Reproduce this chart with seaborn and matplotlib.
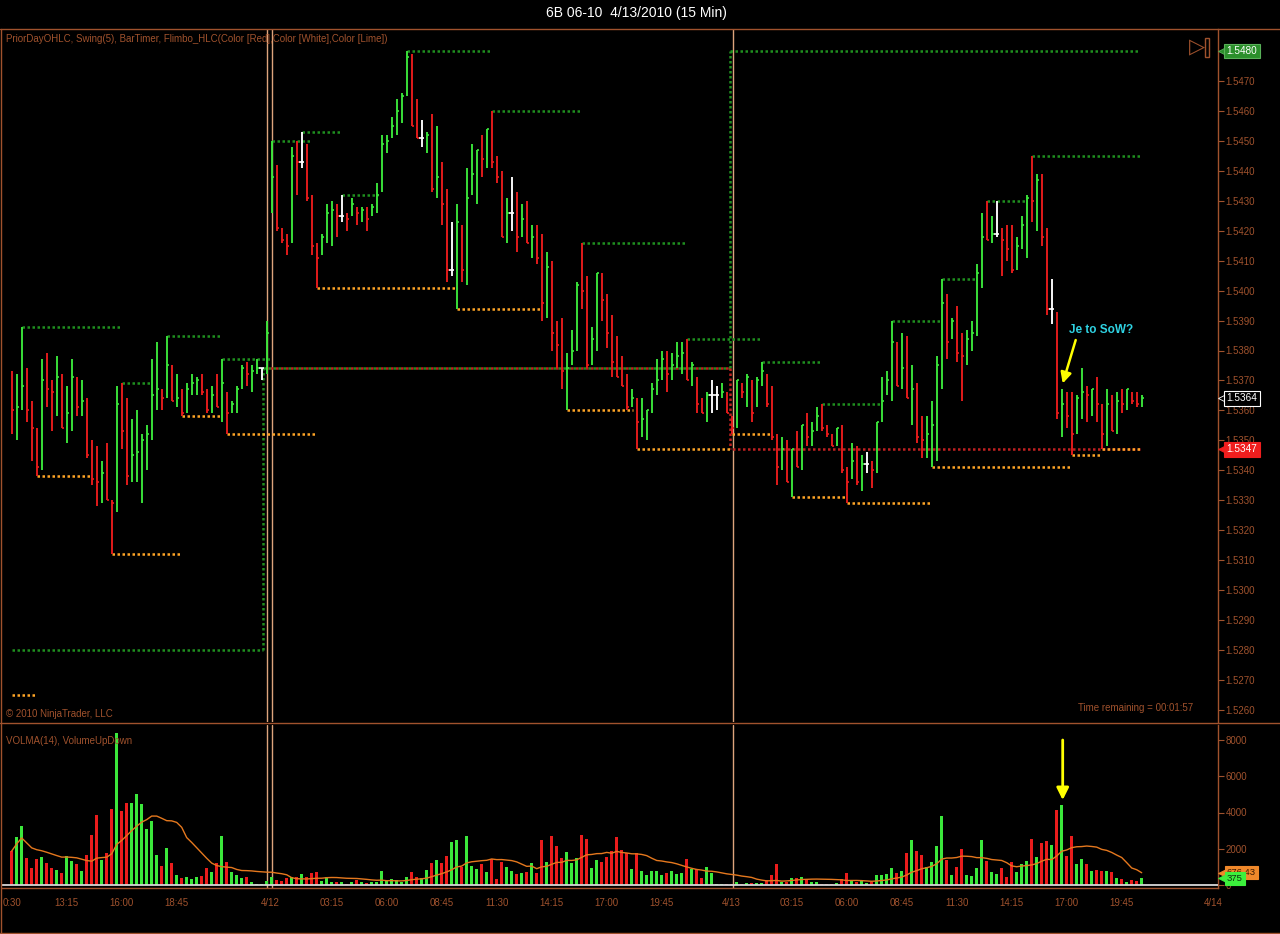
import numpy as np
import pandas as pd
import matplotlib
matplotlib.use("Agg")
import matplotlib.pyplot as plt
import matplotlib.transforms as mtransforms
from matplotlib.lines import Line2D
from matplotlib.patches import Rectangle
from matplotlib.ticker import FuncFormatter
import seaborn as sns

# ---------------------------------------------------------------------------
# 6B (British pound futures, June 2010) - 15 minute bars
# quotes are stored in pips above BASE
# ---------------------------------------------------------------------------
BASE = 1.5200
PIP = 0.0001

HIGH = [
    173, 172, 188, 174, 163, 154, 177, 179, 170, 178,
    172, 168, 177, 171, 170, 164, 150, 148, 143, 149,
    130, 168, 169, 164, 157, 160, 152, 155, 177, 183,
    167, 185, 175, 172, 167, 169, 172, 171, 172, 167,
    168, 172, 177, 166, 163, 168, 175, 176, 175, 177,
    174, 190, 250, 242, 221, 219, 248, 250, 253, 249,
    232, 216, 219, 229, 230, 229, 232, 226, 231, 228,
    228, 228, 229, 236, 252, 252, 258, 264, 266, 280,
    279, 264, 257, 253, 259, 255, 243, 234, 223, 229,
    222, 241, 249, 247, 252, 254, 260, 245, 240, 231,
    238, 233, 229, 230, 222, 222, 219, 213, 210, 190,
    191, 179, 187, 203, 216, 205, 188, 206, 206, 199,
    192, 185, 178, 172, 167, 164, 164, 160, 169, 177,
    180, 180, 179, 183, 183, 184, 176, 171, 164, 166,
    170, 168, 169, 166, 158, 170, 169, 172, 170, 171,
    176, 172, 168, 152, 151, 150, 147, 153, 155, 159,
    156, 161, 162, 155, 152, 154, 155, 141, 149, 148,
    145, 146, 143, 156, 171, 173, 190, 183, 186, 185,
    175, 169, 158, 158, 163, 178, 204, 199, 191, 195,
    186, 187, 190, 209, 226, 230, 225, 230, 221, 222,
    222, 218, 225, 232, 245, 239, 239, 221, 204, 193,
    167, 166, 166, 165, 174, 168, 167, 171, 162, 167,
    165, 166, 167, 167, 166, 166, 165,
]

LOW = [
    152, 150, 160, 156, 143, 138, 140, 161, 153, 158,
    154, 149, 153, 158, 158, 144, 135, 128, 129, 130,
    112, 126, 147, 135, 136, 136, 129, 140, 150, 160,
    160, 164, 163, 161, 158, 159, 165, 165, 165, 159,
    159, 161, 156, 152, 159, 159, 167, 168, 166, 172,
    170, 172, 226, 220, 216, 212, 216, 232, 241, 230,
    212, 201, 212, 216, 215, 218, 223, 220, 225, 222,
    223, 220, 225, 226, 233, 246, 251, 252, 256, 265,
    255, 251, 248, 246, 233, 231, 222, 203, 205, 194,
    203, 202, 232, 229, 238, 241, 241, 236, 218, 216,
    220, 213, 218, 216, 211, 209, 190, 191, 180, 174,
    167, 160, 175, 180, 194, 174, 175, 180, 190, 181,
    171, 171, 168, 160, 161, 147, 151, 150, 159, 165,
    170, 166, 170, 174, 172, 170, 168, 159, 159, 156,
    159, 160, 164, 159, 152, 154, 164, 161, 156, 161,
    168, 161, 150, 135, 140, 136, 131, 141, 140, 148,
    148, 153, 153, 151, 148, 148, 139, 129, 137, 135,
    133, 139, 134, 139, 156, 165, 163, 168, 167, 164,
    155, 149, 144, 144, 141, 143, 167, 177, 184, 176,
    163, 175, 180, 185, 201, 217, 216, 218, 205, 210,
    206, 207, 214, 211, 223, 220, 215, 192, 189, 157,
    151, 154, 145, 152, 157, 156, 158, 156, 147, 148,
    153, 152, 159, 160, 162, 161, 161,
]

CLOSE = [
    160, 161, 168, 160, 154, 141, 170, 167, 166, 171,
    154, 159, 171, 161, 163, 145, 137, 136, 139, 130,
    129, 162, 153, 138, 145, 146, 150, 152, 165, 167,
    164, 175, 163, 164, 159, 167, 169, 170, 166, 160,
    165, 161, 169, 159, 162, 167, 174, 172, 173, 174,
    174, 186, 238, 221, 217, 215, 245, 243, 243, 231,
    215, 211, 218, 226, 227, 225, 225, 224, 229, 226,
    227, 224, 228, 232, 249, 250, 255, 260, 265, 278,
    255, 251, 251, 252, 234, 238, 229, 207, 207, 223,
    207, 231, 239, 247, 244, 254, 243, 238, 218, 226,
    226, 218, 224, 216, 218, 211, 196, 208, 186, 182,
    173, 174, 180, 202, 200, 175, 184, 206, 197, 186,
    176, 171, 168, 161, 164, 156, 157, 160, 167, 170,
    177, 172, 175, 178, 179, 170, 175, 162, 159, 165,
    165, 165, 166, 159, 154, 170, 166, 171, 159, 170,
    173, 162, 151, 141, 147, 136, 147, 141, 155, 151,
    153, 158, 154, 152, 148, 154, 140, 136, 143, 136,
    142, 142, 140, 156, 163, 170, 183, 168, 174, 164,
    167, 151, 150, 152, 155, 175, 196, 183, 190, 179,
    178, 184, 186, 206, 218, 217, 219, 219, 217, 214,
    207, 215, 222, 231, 230, 237, 218, 194, 194, 159,
    162, 158, 152, 164, 166, 165, 167, 162, 152, 162,
    153, 163, 162, 167, 163, 162, 164,
]
PREV_SESSION_CLOSE = 165

VOLUME = [
    1874, 2664, 3251, 1506, 955, 1433, 1543, 1231, 955, 827,
    680, 1598, 1323, 1139, 790, 1653, 2756, 3858, 1378, 1745,
    4188, 8413, 4078, 4537, 4537, 5015, 4464, 3086, 3527, 1653,
    1047, 2021, 1231, 551, 404, 459, 331, 459, 496, 919,
    735, 1194, 2700, 1249, 735, 551, 404, 459, 184, 55,
    37, 200, 459, 276, 220, 367, 459, 459, 606, 459,
    680, 735, 239, 459, 184, 147, 147, 37, 147, 276,
    147, 92, 184, 184, 790, 276, 331, 276, 147, 459,
    735, 459, 404, 827, 1231, 1378, 1231, 1598, 2388, 2480,
    1010, 2700, 1047, 882, 1157, 735, 1433, 331, 1286, 1010,
    790, 606, 680, 735, 1231, 680, 2480, 1286, 2719, 2168,
    1506, 1837, 1231, 1470, 2756, 2535, 955, 1378, 1286, 1561,
    1874, 2664, 1929, 1745, 882, 1782, 790, 551, 772, 772,
    551, 680, 772, 606, 680, 1433, 882, 863, 404, 974,
    680, 37, 37, 37, 50, 184, 37, 129, 92, 129,
    129, 276, 551, 1139, 184, 184, 367, 367, 459, 331,
    184, 184, 37, 37, 37, 129, 331, 643, 220, 184,
    239, 129, 184, 551, 551, 606, 919, 643, 772, 1745,
    2480, 1874, 1653, 1010, 1249, 2149, 3803, 1378, 551, 1010,
    1984, 551, 496, 955, 2480, 1323, 735, 606, 919, 459,
    1286, 735, 1139, 1323, 2517, 1561, 2333, 2443, 2204, 4133,
    4409, 1598, 2700, 1157, 1433, 1157, 790, 827, 772, 790,
    735, 404, 331, 184, 276, 239, 375,
]
VOLMA_PERIOD = 14

# Swing(5) levels: first bar, last bar, level (pips)
SWING_HIGH_START = [2, 22, 31, 42, 52, 58, 66, 79, 96, 114, 135, 150, 162, 176, 186, 195, 204]
SWING_HIGH_END = [21.6, 27.6, 41.6, 51.7, 59.6, 65.7, 73.3, 95.7, 113.7, 134.7, 149.7, 161.7, 173.7, 185.7, 192.7, 203.0, 225.7]
SWING_HIGH_LEVEL = [188, 169, 185, 177, 250, 253, 232, 280, 260, 216, 184, 176, 162, 190, 204, 230, 245]

SWING_LOW_START = [0, 5, 20, 34, 43, 61, 89, 111, 125, 144, 156, 167, 184, 212, 218]
SWING_LOW_END = [4.7, 15.7, 33.7, 41.7, 60.7, 88.7, 105.7, 124.3, 143.7, 151.6, 166.7, 183.7, 211.7, 217.7, 226.0]
SWING_LOW_LEVEL = [65, 138, 112, 158, 152, 201, 194, 160, 147, 152, 131, 129, 141, 145, 147]

# PriorDayOHLC: session edges (bar units) and prior-day high / low (pips)
PRIOR_DAY_EDGES = [0, 50.3, 143.7, 225.7]
PRIOR_DAY_HIGH = [80, 174, 280]
PRIOR_DAY_LOW = [None, 174, 147]

SESSION_BREAKS = [51.1, 52.1, 144.2]

TICK_POS = [0, 11, 22, 33, 44, 51.7, 64, 75, 86, 97, 108, 119, 130, 141, 144.0,
            156, 167, 178, 189, 200, 211, 222, 233, 240.3]
TICK_LABELS = ["0:30", "13:15", "16:00", "18:45", "", "4/12", "03:15", "06:00", "08:45",
               "11:30", "14:15", "17:00", "19:45", "", "4/13", "03:15", "06:00", "08:45",
               "11:30", "14:15", "17:00", "19:45", "", "4/14"]

SIGNAL_BAR = 210
TIME_REMAINING = "00:01:57"

# ---------------------------------------------------------------------------
SIENNA = "#A0522D"
LIME = "#3BE83B"
RED = "#EA1C1C"
WHITE = "#FFFFFF"
SWING_GREEN = "#1F8F1F"
SWING_ORANGE = "#FFA526"
PD_RED = "#C02020"
SESSION = "#DDA47C"
VOLMA_ORANGE = "#E5781E"
YELLOW = "#FFFF00"

sns.set_theme(style="dark", rc={
    "axes.facecolor": "black", "figure.facecolor": "black",
    "axes.edgecolor": SIENNA, "axes.grid": False,
    "xtick.color": SIENNA, "ytick.color": SIENNA,
})
plt.rcParams["font.family"] = ["Liberation Sans", "DejaVu Sans"]

W, H = 1280, 934


def px_rect(x0, y0, x1, y1):
    return [x0 / W, 1 - y1 / H, (x1 - x0) / W, (y1 - y0) / H]


def px(x, y):
    return x / W, 1 - y / H


def price(p):
    return BASE + np.asarray(p, dtype=float) * PIP


fig = plt.figure(figsize=(W / 100, H / 100), dpi=100, facecolor="black")
ax_p = fig.add_axes(px_rect(2, 29, 1218, 722))
ax_v = fig.add_axes(px_rect(2, 725, 1218, 888), sharex=ax_p)

n = len(CLOSE)
idx = np.arange(n)
hi, lo, cl = price(HIGH), price(LOW), price(CLOSE)
prev = np.r_[PREV_SESSION_CLOSE, CLOSE[:-1]]
move = np.sign(np.array(CLOSE) - prev)
bar_colors = np.where(move > 0, LIME, np.where(move < 0, RED, WHITE))

DOT = (0, (1, 1))
DOT_SHIFT = (1, (1, 1))

# --- price panel -----------------------------------------------------------
for xb in SESSION_BREAKS:
    ax_p.axvline(xb, color=SESSION, lw=1.0, zorder=1)
    ax_v.axvline(xb, color=SESSION, lw=1.0, zorder=1)

# prior-day high / low
for k in range(len(PRIOR_DAY_HIGH)):
    x0, x1 = PRIOR_DAY_EDGES[k], PRIOR_DAY_EDGES[k + 1]
    ax_p.hlines(price(PRIOR_DAY_HIGH[k]), x0, x1, colors=SWING_GREEN,
                linestyles=[DOT], lw=1.8, zorder=2)
    if PRIOR_DAY_LOW[k] is not None:
        ax_p.hlines(price(PRIOR_DAY_LOW[k]), x0, x1, colors=PD_RED,
                    linestyles=[DOT_SHIFT], lw=1.8, zorder=2)
    if k > 0:
        ax_p.vlines(x0, price(PRIOR_DAY_HIGH[k - 1]), price(PRIOR_DAY_HIGH[k]),
                    colors=SWING_GREEN, linestyles=[DOT], lw=1.8, zorder=2)
        if PRIOR_DAY_LOW[k - 1] is not None:
            ax_p.vlines(x0, price(PRIOR_DAY_LOW[k - 1]), price(PRIOR_DAY_LOW[k]),
                        colors=PD_RED, linestyles=[DOT], lw=1.8, zorder=2)

# swing lines
ax_p.hlines(price(SWING_HIGH_LEVEL), SWING_HIGH_START, SWING_HIGH_END,
            colors=SWING_GREEN, linestyles=[DOT], lw=1.8, zorder=3)
ax_p.hlines(price(SWING_LOW_LEVEL), SWING_LOW_START, SWING_LOW_END,
            colors=SWING_ORANGE, linestyles=[DOT], lw=1.8, zorder=3)

# HLC bars
ax_p.vlines(idx, lo, hi, colors=bar_colors, lw=1.35, zorder=4)
ax_p.hlines(cl, idx, idx + 0.55, colors=bar_colors, lw=1.2, zorder=4)
flat = move == 0
ax_p.hlines(cl[flat], idx[flat] - 0.55, idx[flat], colors=WHITE, lw=1.2, zorder=4)

ax_p.set_xlim((2 - 11.7) / 5, (1218 - 11.7) / 5)
ax_p.set_ylim(price((722 - 51) / -2.995 + 280), price(280 + 22 / 2.995))

ax_p.yaxis.tick_right()
ax_p.set_yticks(price(np.arange(60, 280, 10)))
ax_p.yaxis.set_major_formatter(FuncFormatter(lambda v, _: f"{v:.4f}"))
ax_p.tick_params(axis="y", colors=SIENNA, labelsize=7, length=4, width=0.8, pad=1.5)
ax_p.tick_params(axis="x", length=0, labelbottom=False)
for side in ("left", "top", "bottom"):
    ax_p.spines[side].set_visible(False)
ax_p.spines["right"].set_color(SIENNA)
ax_p.spines["right"].set_linewidth(1.0)

# annotation on the signal bar
ax_p.annotate("", xy=(SIGNAL_BAR + 0.2, price(HIGH[SIGNAL_BAR] + 2)),
              xytext=(SIGNAL_BAR + 2.8, price(183.5)),
              arrowprops=dict(arrowstyle="-|>", color=YELLOW, lw=1.8,
                              mutation_scale=16, shrinkA=0, shrinkB=0), zorder=6)
ax_p.text(217.9, price(187), "Je to SoW?", color="#2FD3E3", fontsize=8.5,
          fontweight="bold", ha="center", va="center", zorder=6)

# right-hand price flags
blend_p = mtransforms.blended_transform_factory(ax_p.transAxes, ax_p.transData)
blend_v = mtransforms.blended_transform_factory(ax_v.transAxes, ax_v.transData)


def flag(ax, blend, y, text, face, edge, tcolor, fs=7.2):
    ax.plot([1.0 + 4.5 / 1216], [y], marker="<", ms=6.5, color=face, mec=edge,
            mew=0.6, transform=blend, clip_on=False, zorder=8)
    ax.annotate(text, xy=(1.0, y), xycoords=blend, xytext=(6.2, 0),
                textcoords="offset points", ha="left", va="center", fontsize=fs,
                color=tcolor, annotation_clip=False, zorder=9,
                bbox=dict(boxstyle="square,pad=0.22", fc=face, ec=edge, lw=0.8))


flag(ax_p, blend_p, price(PRIOR_DAY_HIGH[-1]), f"{float(price(PRIOR_DAY_HIGH[-1])):.4f}",
     "#2B8F2B", "#58B058", WHITE)
flag(ax_p, blend_p, price(CLOSE[-1]), f"{float(price(CLOSE[-1])):.4f}", "black", WHITE, WHITE)
flag(ax_p, blend_p, price(PRIOR_DAY_LOW[-1]), f"{float(price(PRIOR_DAY_LOW[-1])):.4f}",
     "#F01E1E", "#F01E1E", WHITE)

# panel captions
ax_p.text(4 / 1216, 1 - 10 / 693,
          "PriorDayOHLC, Swing(5), BarTimer, Flimbo_HLC(Color [Red],Color [White],Color [Lime])",
          transform=ax_p.transAxes, color=SIENNA, fontsize=7, ha="left", va="center")
ax_p.text(4 / 1216, 1 - 685 / 693, "\u00a9 2010 NinjaTrader, LLC", transform=ax_p.transAxes,
          color=SIENNA, fontsize=7, ha="left", va="center")
ax_p.text(1191 / 1216, 1 - 679 / 693, f"Time remaining = {TIME_REMAINING}",
          transform=ax_p.transAxes, color=SIENNA, fontsize=7, ha="right", va="center")

# --- volume panel ----------------------------------------------------------
vol = np.array(VOLUME, dtype=float)
vol_colors = np.where(move < 0, RED, LIME)
ax_v.bar(idx, vol, width=0.5, color=vol_colors, linewidth=0, zorder=3)
volma = pd.Series(vol).rolling(VOLMA_PERIOD, min_periods=1).mean()
sns.lineplot(x=idx, y=volma.values, ax=ax_v, color=VOLMA_ORANGE, lw=1.0, zorder=4,
             legend=False)
ax_v.axhline(0, color="#D8D8D8", lw=1.3, zorder=5)

ax_v.annotate("", xy=(SIGNAL_BAR + 0.2, VOLUME[SIGNAL_BAR] + 280),
              xytext=(SIGNAL_BAR + 0.2, 8000),
              arrowprops=dict(arrowstyle="-|>", color=YELLOW, lw=2.0,
                              mutation_scale=18, shrinkA=0, shrinkB=0), zorder=6)

ax_v.set_ylim(-(888 - 885) * 8000 / 145, (885 - 725) * 8000 / 145)
ax_v.yaxis.tick_right()
ax_v.set_yticks([0, 2000, 4000, 6000, 8000])
ax_v.tick_params(axis="y", colors=SIENNA, labelsize=7, length=4, width=0.8, pad=1.5)
ax_v.set_xticks(TICK_POS)
ax_v.set_xticklabels(TICK_LABELS)
ax_v.tick_params(axis="x", colors=SIENNA, labelsize=7, length=5, width=0.8, pad=2.5)
ax_v.set_xlabel("")
ax_v.set_ylabel("")
for side in ("left", "top"):
    ax_v.spines[side].set_visible(False)
for side in ("right", "bottom"):
    ax_v.spines[side].set_color(SIENNA)
    ax_v.spines[side].set_linewidth(1.0)

ax_v.text(4 / 1216, 1 - 16 / 163, f"VOLMA({VOLMA_PERIOD}), VolumeUpDown",
          transform=ax_v.transAxes, color=SIENNA, fontsize=7, ha="left", va="center")

flag(ax_v, blend_v, volma.values[-1], f"{volma.values[-1]:.2f}", "#F0882A", "#F0882A",
     "#3A1800", fs=6.8)
flag(ax_v, blend_v, VOLUME[-1], f"{VOLUME[-1]}", "#3CF03C", "#3CF03C", "#103010", fs=6.8)

# --- window chrome ---------------------------------------------------------
fig.text(*px(636, 13), "6B 06-10  4/13/2010 (15 Min)", color=WHITE, fontsize=10,
         ha="center", va="center")
for (xa, ya), (xb, yb) in [((0, 28.5), (1280, 28.5)), ((0, 723), (1280, 723)),
                           ((1, 28.5), (1, 933)), ((0, 932.5), (1280, 932.5))]:
    fig.add_artist(Line2D([xa / W, xb / W], [1 - ya / H, 1 - yb / H],
                          transform=fig.transFigure, color=SIENNA, lw=1.0))

fig.text(*px(1197, 47), "\u25b7", color=SIENNA, fontsize=15, ha="center", va="center",
         family=["DejaVu Sans"])
fig.add_artist(Rectangle(px(1205, 57), 4 / W, 19 / H, transform=fig.transFigure,
                         fill=False, ec=SIENNA, lw=1.0))

fig.savefig("out.png", dpi=100, facecolor="black")
